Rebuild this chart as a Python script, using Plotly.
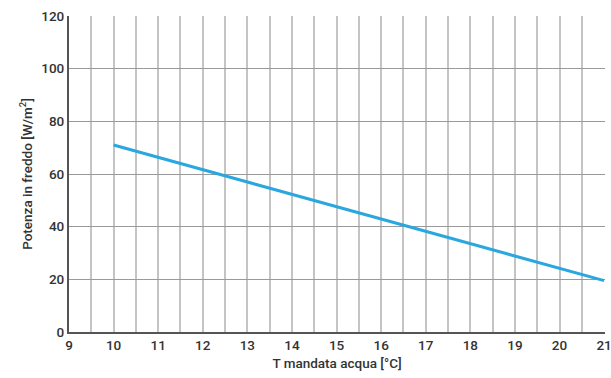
import plotly.graph_objects as go

x_temp = [10, 11, 12, 13, 14, 15, 16, 17, 18, 19, 20, 21]
y_power = [71.0, 66.3, 61.6, 56.9, 52.2, 47.6, 42.9, 38.2, 33.5, 28.8, 24.2, 19.5]
x_ticks = list(range(9, 22))
y_ticks = [0, 20, 40, 60, 80, 100, 120]

font_family = "Liberation Sans Narrow, Roboto, Arial, sans-serif"

fig = go.Figure()
fig.add_trace(go.Scatter(x=x_temp, y=y_power, mode="lines",
                         line=dict(color="#2aa7de", width=3)))

fig.update_layout(
    width=611, height=378,
    margin=dict(l=69, r=6, t=16, b=46),
    paper_bgcolor="white", plot_bgcolor="white",
    showlegend=False,
    font=dict(family=font_family, size=14, color="#333333"),
)
fig.update_xaxes(
    range=[9, 21.02], tickvals=x_ticks, ticktext=[str(v) for v in x_ticks],
    automargin=False, ticklabeloverflow="allow",
    showgrid=True, gridcolor="#c4c4c4", gridwidth=1.5,
    minor=dict(dtick=0.5, tick0=9, showgrid=True, gridcolor="#c4c4c4", gridwidth=1.5),
    showline=True, linecolor="#555555", linewidth=2,
    ticks="", zeroline=False,
    title=dict(text="T mandata acqua [°C]", standoff=6, font=dict(size=13.5, weight=500)),
    tickfont=dict(size=13.5, weight=500),
)
fig.update_yaxes(
    range=[0, 120], tickvals=y_ticks,
    automargin=False,
    showgrid=True, gridcolor="#9a9a9a", gridwidth=1.2,
    showline=True, linecolor="#555555", linewidth=2,
    ticks="", zeroline=False,
    title=dict(text="Potenza in freddo [W/m<sup>2</sup>]", standoff=6, font=dict(size=13.5, weight=500)),
    tickfont=dict(size=13.5, weight=500),
)

fig.write_html("out.html", config={"displayModeBar": False},
               post_script="document.body.style.margin='0';")
